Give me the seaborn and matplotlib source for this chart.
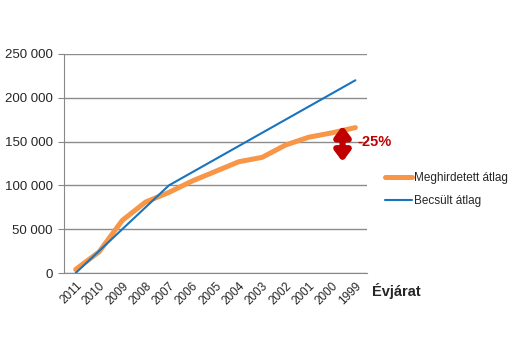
import pandas as pd
import numpy as np
import matplotlib
matplotlib.use("Agg")
import matplotlib.pyplot as plt
import seaborn as sns

years = ["2011", "2010", "2009", "2008", "2007", "2006", "2005",
         "2004", "2003", "2002", "2001", "2000", "1999"]
meghirdetett = [4000, 24000, 60000, 81000, 92000, 105000, 116000,
                127000, 132000, 146000, 155000, 160000, 166000]
becsult = [0, 25000, 50000, 75000, 100000, 115000, 130000,
           145000, 160000, 175000, 190000, 205000, 220000]
yticks = [0, 50000, 100000, 150000, 200000, 250000]

sns.set_style("white")
plt.rcParams['font.family'] = ['Liberation Sans', 'DejaVu Sans']

df = pd.DataFrame({
    "Évjárat": years * 2,
    "érték": meghirdetett + becsult,
    "sorozat": ["Meghirdetett átlag"] * len(years) + ["Becsült átlag"] * len(years),
})

fig = plt.figure(figsize=(5.28, 3.52), dpi=100)
ax = fig.add_axes([64 / 528, 79 / 352, 303 / 528, 219 / 352])

sns.lineplot(data=df, x="Évjárat", y="érték", hue="sorozat", size="sorozat",
             palette={"Meghirdetett átlag": "#F79646", "Becsült átlag": "#1874BE"},
             sizes={"Meghirdetett átlag": 3.6, "Becsült átlag": 1.5},
             sort=False, ax=ax)

ax.set_xlim(-0.5, len(years) - 0.5)
ax.set_ylim(0, 250000)
ax.set_yticks(yticks)
ax.set_yticklabels([f"{v:,}".replace(",", " ") for v in yticks], fontsize=9.5)
ax.set_xticks(range(len(years)))
ax.set_xticklabels(years, rotation=45, ha="right", rotation_mode="anchor", fontsize=8.5)
ax.tick_params(axis="x", which="major", length=0, pad=5)
ax.set_xticks(np.arange(-0.5, len(years)), minor=True)
ax.tick_params(axis="x", which="minor", length=4, color="#888888", direction="out")
ax.tick_params(axis="y", length=4, color="#888888", direction="out", left=True, pad=4)
ax.grid(axis="y", color="#8c8c8c", linewidth=1)
ax.set_axisbelow(True)
for s in ["top", "right"]:
    ax.spines[s].set_visible(False)
for s in ["left", "bottom"]:
    ax.spines[s].set_color("#888888")
ax.set_ylabel("")
ax.set_xlabel("")
ax.text(1.016, -0.08, "Évjárat", transform=ax.transAxes, fontsize=10.5,
        fontweight="bold", va="center", ha="left")

# arrow marking the gap
ax.annotate("", xy=(11.45, 127000), xytext=(11.45, 168000),
            arrowprops=dict(arrowstyle="<|-|>,head_length=0.6,head_width=0.45",
                            color="#C00000", lw=4.5, shrinkA=0, shrinkB=0))
ax.text(12.1, 149000, "-25%", color="#C00000", fontsize=10.5,
        fontweight="bold", va="center", ha="left")

leg = ax.legend(loc="center left", bbox_to_anchor=(1.059, 0.38), frameon=False,
                fontsize=8.5, handlelength=2.3, handletextpad=0.15, labelspacing=0.9,
                borderaxespad=0, borderpad=0)

fig.savefig("out.png", dpi=100)
